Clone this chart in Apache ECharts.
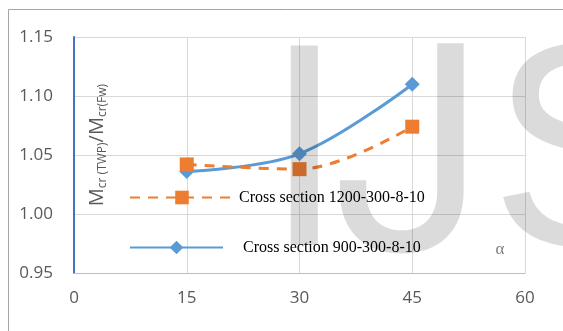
<!DOCTYPE html>
<html>
<head>
<meta charset="utf-8">
<script src="https://cdn.jsdelivr.net/npm/echarts@6/dist/echarts.min.js"></script>
<style>
  html, body { margin: 0; padding: 0; background: #fff; }
  #chart { width: 563px; height: 331px; }
</style>
</head>
<body>
<div id="chart"></div>
<script>
// Angle alpha (degrees) and buckling moment ratios for the two cross sections
var angles = [15, 30, 45];
var ratio900 = [1.036, 1.051, 1.110];
var ratio1200 = [1.042, 1.038, 1.074];
var seriesNames = ['Cross section 900-300-8-10', 'Cross section 1200-300-8-10'];
var xTicks = { min: 0, max: 60, step: 15 };
var yTicks = { min: 0.95, max: 1.15, step: 0.05 };

var chart = echarts.init(document.getElementById('chart'), null, { renderer: 'canvas' });

var axisFont = { fontFamily: 'Open Sans', fontSize: 17, color: '#595959' };
var legendText = { fontFamily: 'Liberation Serif', fontSize: 16, color: '#000' };
var markFill = 'rgba(0,0,0,0.14)';

chart.setOption({
  animation: false,
  backgroundColor: '#fff',
  grid: { left: 74, right: 38, top: 37, bottom: 58, containLabel: false },
  xAxis: {
    type: 'value',
    min: xTicks.min, max: xTicks.max, interval: xTicks.step,
    axisLine: { show: true, lineStyle: { color: '#bfbfbf', width: 1 } },
    axisTick: { show: false },
    axisLabel: Object.assign({ margin: 17 }, axisFont),
    splitLine: { show: true, lineStyle: { color: '#d9d9d9', width: 1 } }
  },
  yAxis: {
    type: 'value',
    min: yTicks.min, max: yTicks.max, interval: yTicks.step,
    axisLine: { show: true, onZero: false, lineStyle: { color: '#4472c4', width: 2 } },
    axisTick: { show: false },
    axisLabel: Object.assign({ margin: 21, formatter: function (v) { return v.toFixed(2); } }, axisFont),
    splitLine: { show: true, lineStyle: { color: '#d9d9d9', width: 1 } }
  },
  legend: [
    {
      data: [seriesNames[1]],
      left: 129, top: 189.5, padding: 0,
      itemWidth: 104, itemHeight: 17, itemGap: 0,
      lineStyle: { width: 2 },
      textStyle: Object.assign({ padding: [4, 0, 0, 0] }, legendText),
      selectedMode: false
    },
    {
      data: [seriesNames[0]],
      left: 129, top: 239.5, padding: 0,
      itemWidth: 93, itemHeight: 17, itemGap: 0,
      lineStyle: { width: 2 },
      textStyle: Object.assign({ padding: [8, 0, 0, 15] }, legendText),
      selectedMode: false
    }
  ],
  series: [
    {
      name: seriesNames[0],
      type: 'line',
      smooth: 0.35,
      data: angles.map(function (a, i) { return [a, ratio900[i]]; }),
      symbol: 'diamond',
      symbolSize: 15,
      lineStyle: { color: '#5b9bd5', width: 3 },
      itemStyle: { color: '#5b9bd5' },
      z: 2
    },
    {
      name: seriesNames[1],
      type: 'line',
      smooth: 0.35,
      data: angles.map(function (a, i) { return [a, ratio1200[i]]; }),
      symbol: 'rect',
      symbolSize: 14,
      lineStyle: { color: '#ed7d31', width: 3, type: [10, 8] },
      itemStyle: { color: '#ed7d31' },
      z: 3
    }
  ],
  graphic: [
    // chart frame
    {
      type: 'rect', silent: true, z: 0,
      shape: { x: 8.5, y: 9.5, width: 600, height: 400 },
      style: { fill: null, stroke: '#a6a6a6', lineWidth: 1 }
    },
    // right edge of the plot area
    {
      type: 'line', silent: true, z: 1,
      shape: { x1: 525.5, y1: 37, x2: 525.5, y2: 273 },
      style: { stroke: '#d9d9d9', lineWidth: 1 }
    },
    // vertical axis title
    {
      type: 'text', silent: true, z: 5,
      x: 97, y: 145, rotation: Math.PI / 2,
      style: {
        text: '{m|M}{s|cr (TWP)}{m|/M}{s|cr(Fw)}',
        align: 'center', verticalAlign: 'middle',
        fill: '#595959',
        rich: {
          m: { fontFamily: 'Open Sans', fontSize: 20, lineHeight: 24, fill: '#595959' },
          s: { fontFamily: 'Open Sans', fontSize: 12, lineHeight: 12, verticalAlign: 'bottom', fill: '#595959' }
        }
      }
    },
    // horizontal axis symbol
    {
      type: 'text', silent: true, z: 5,
      x: 500, y: 250,
      style: { text: 'α', fontFamily: 'Liberation Serif', fontSize: 17, fill: '#7f7f7f', align: 'center', verticalAlign: 'middle' }
    },
    // publisher mark "IJS"
    {
      type: 'text', silent: true, z: 100,
      x: 264, y: 165,
      style: { text: 'I', fontFamily: 'Liberation Sans', fontSize: 290, fill: markFill, align: 'left', verticalAlign: 'middle' }
    },
    {
      type: 'text', silent: true, z: 100,
      x: 326, y: 165,
      style: { text: 'J', fontFamily: 'Inter', fontSize: 285, fill: markFill, align: 'left', verticalAlign: 'middle' }
    },
    {
      type: 'text', silent: true, z: 100,
      x: 490, y: 165,
      style: { text: 'S', fontFamily: 'Liberation Sans', fontSize: 290, fill: markFill, align: 'left', verticalAlign: 'middle' }
    }
  ]
});
</script>
</body>
</html>
